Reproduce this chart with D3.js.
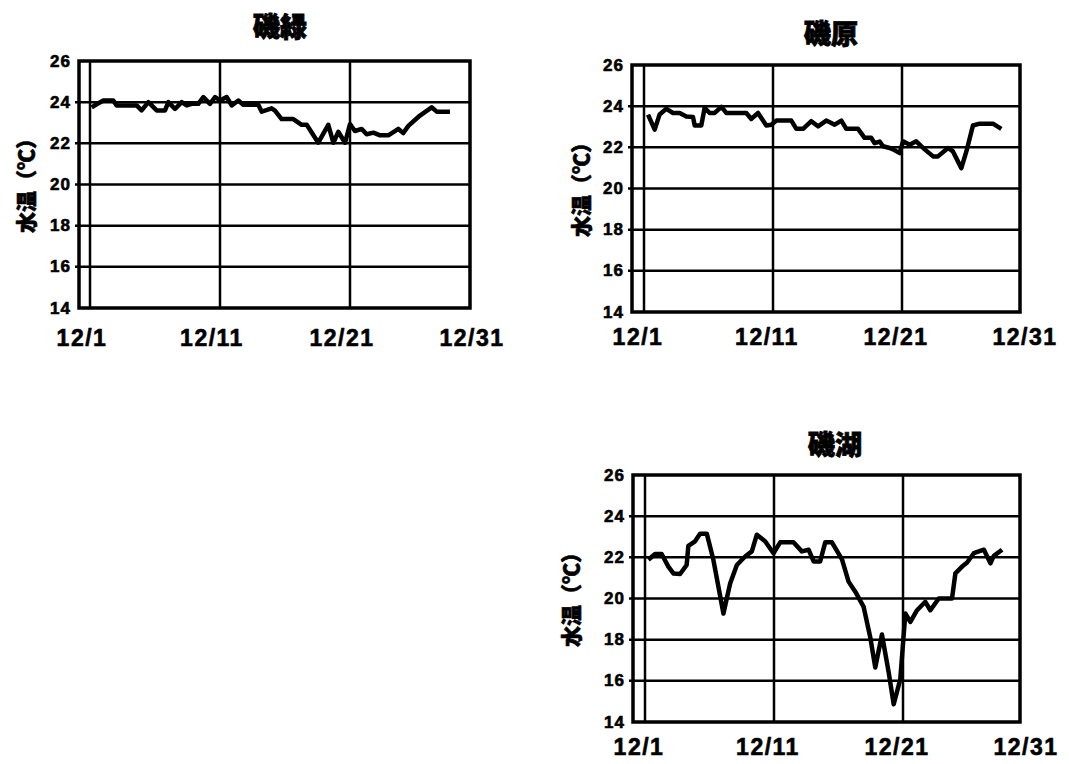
<!DOCTYPE html>
<html>
<head>
<meta charset="utf-8">
<script src="https://cdn.jsdelivr.net/npm/d3@7"></script>
<style>
  body { margin: 0; background: #fff; }
  svg { display: block; }
</style>
</head>
<body>
<script>
// axis values
const tickDays = [1, 11, 21, 31];
const tickLabels = ["12/1", "12/11", "12/21", "12/31"];
const gridDays = [1, 11, 21];
const yTicks = [14, 16, 18, 20, 22, 24, 26];
const stations = ["磯緑", "磯原", "磯湖"];
const yTitle = "水温（℃）";

// 磯緑
const midoriDays = [1.13, 1.51, 2.03, 2.79, 3.05, 4.59, 4.97, 5.49, 6.13, 6.77, 7.03, 7.54, 8.05, 8.44, 8.82, 9.33, 9.72, 10.23, 10.62, 11.0, 11.51, 11.9, 12.41, 12.79, 13.95, 14.21, 14.97, 15.23, 15.74, 16.64, 17.28, 17.67, 18.56, 19.33, 19.72, 20.1, 20.62, 21.0, 21.38, 21.9, 22.28, 22.8, 23.31, 23.95, 24.72, 25.1, 25.49, 26.38, 27.28, 27.67, 28.69];
const midoriTemp = [23.75, 23.9, 24.08, 24.08, 23.84, 23.84, 23.6, 24.0, 23.6, 23.6, 24.0, 23.67, 24.0, 23.84, 23.92, 23.92, 24.25, 23.92, 24.25, 24.08, 24.25, 23.84, 24.08, 23.87, 23.87, 23.54, 23.7, 23.59, 23.18, 23.18, 22.9, 22.9, 22.03, 22.9, 22.03, 22.56, 22.03, 22.93, 22.6, 22.7, 22.44, 22.52, 22.39, 22.39, 22.7, 22.5, 22.85, 23.35, 23.75, 23.54, 23.54];

// 磯原
const haraDays = [1.31, 1.83, 2.21, 2.73, 3.25, 3.76, 4.28, 4.8, 4.93, 5.44, 5.7, 6.09, 6.48, 7.0, 7.38, 8.93, 9.32, 9.84, 10.48, 10.87, 11.26, 12.42, 12.81, 13.33, 13.97, 14.49, 15.13, 15.78, 16.3, 16.68, 17.59, 18.1, 18.62, 18.88, 19.27, 19.53, 20.05, 20.3, 20.82, 21.08, 21.6, 22.1, 22.76, 23.41, 23.79, 24.57, 24.95, 25.6, 25.99, 26.5, 27.02, 28.05, 28.7];
const haraTemp = [23.59, 22.86, 23.6, 23.87, 23.67, 23.67, 23.5, 23.47, 23.06, 23.06, 23.92, 23.67, 23.67, 23.97, 23.67, 23.67, 23.38, 23.67, 23.06, 23.1, 23.3, 23.3, 22.9, 22.9, 23.27, 23.02, 23.3, 23.1, 23.3, 22.9, 22.9, 22.46, 22.46, 22.2, 22.28, 22.05, 21.97, 21.9, 21.72, 22.29, 22.13, 22.29, 21.9, 21.56, 21.56, 21.97, 21.8, 20.99, 21.8, 23.06, 23.15, 23.15, 22.9];

// 磯湖
const koDays = [1.26, 1.78, 2.29, 2.81, 3.2, 3.72, 4.23, 4.36, 4.88, 5.27, 5.79, 6.3, 7.08, 7.6, 8.12, 8.76, 9.28, 9.67, 10.31, 10.96, 11.48, 12.51, 13.16, 13.68, 14.07, 14.58, 14.97, 15.49, 16.27, 16.78, 17.3, 17.95, 18.46, 18.85, 19.37, 19.89, 20.28, 20.79, 21.18, 21.57, 22.09, 22.73, 23.12, 23.77, 24.8, 25.06, 25.58, 25.97, 26.49, 27.27, 27.78, 28.04, 28.68];
const koTemp = [21.88, 22.16, 22.16, 21.55, 21.22, 21.19, 21.63, 22.56, 22.78, 23.15, 23.15, 21.88, 19.27, 20.73, 21.63, 22.04, 22.29, 23.1, 22.78, 22.2, 22.73, 22.73, 22.29, 22.37, 21.8, 21.8, 22.73, 22.73, 21.9, 20.82, 20.33, 19.59, 18.12, 16.65, 18.25, 16.41, 14.86, 16.08, 19.27, 18.86, 19.43, 19.84, 19.43, 20.0, 20.0, 21.22, 21.55, 21.75, 22.2, 22.37, 21.71, 22.07, 22.37];

const svg = d3.select("body").append("svg")
  .attr("width", 1069)
  .attr("height", 764);

svg.append("rect").attr("width", 1069).attr("height", 764).attr("fill", "#fff");

const numFont = "'Liberation Sans', Arial, sans-serif";
const cjkFont = "'Noto Sans CJK JP', 'Noto Sans CJK SC', sans-serif";

// panel layout
const panels = [
  { title: stations[0], days: midoriDays, temp: midoriTemp,
    left: 79, right: 470, top: 61, bottom: 308, day1: 90, day21: 350,
    titleX: 280, titleY: 25, yTitleX: 25, labelDy: 30, labelDx: -8 },
  { title: stations[1], days: haraDays, temp: haraTemp,
    left: 632, right: 1020, top: 65, bottom: 312, day1: 644, day21: 902,
    titleX: 831, titleY: 32, yTitleX: 580, labelDy: 25, labelDx: -6 },
  { title: stations[2], days: koDays, temp: koTemp,
    left: 633, right: 1020, top: 475, bottom: 722, day1: 645, day21: 903,
    titleX: 835, titleY: 443, yTitleX: 570, labelDy: 25, labelDx: -6 }
];

const drawPanel = p => {
  const x = d3.scaleLinear().domain([1, 21]).range([p.day1, p.day21]);
  const y = d3.scaleLinear().domain([14, 26]).range([p.bottom, p.top]);
  const g = svg.append("g");

  // horizontal grid
  g.selectAll(".hgrid")
    .data(yTicks.slice(1, -1))
    .enter().append("line")
    .attr("x1", p.left - 4).attr("x2", p.right)
    .attr("y1", d => y(d)).attr("y2", d => y(d))
    .attr("stroke", "#000").attr("stroke-width", 2.5);

  // vertical grid
  g.selectAll(".vgrid")
    .data(gridDays)
    .enter().append("line")
    .attr("x1", d => x(d)).attr("x2", d => x(d))
    .attr("y1", p.top).attr("y2", p.bottom)
    .attr("stroke", "#000").attr("stroke-width", 2.5);

  // frame
  g.append("rect")
    .attr("x", p.left).attr("y", y(26))
    .attr("width", p.right - p.left).attr("height", y(14) - y(26))
    .attr("fill", "none").attr("stroke", "#000").attr("stroke-width", 3.5);

  // data line
  const pts = p.days.map((d, i) => [d, p.temp[i]]);
  g.append("path")
    .datum(pts)
    .attr("fill", "none")
    .attr("stroke", "#000")
    .attr("stroke-width", 4.5)
    .attr("stroke-linejoin", "round")
    .attr("d", d3.line().x(d => x(d[0])).y(d => y(d[1])));

  // y tick labels
  g.selectAll(".ylab")
    .data(yTicks)
    .enter().append("text")
    .attr("x", p.left - 8).attr("y", d => y(d))
    .attr("text-anchor", "end").attr("dominant-baseline", "central")
    .attr("font-family", numFont).attr("font-weight", "bold")
    .attr("font-size", 17).attr("letter-spacing", 1)
    .attr("stroke", "#000").attr("stroke-width", 0.6)
    .text(d => d);

  // x tick labels
  g.selectAll(".xlab")
    .data(tickDays)
    .enter().append("text")
    .attr("x", (d, i) => x(d) + p.labelDx)
    .attr("y", p.bottom + p.labelDy)
    .attr("text-anchor", "middle").attr("dominant-baseline", "central")
    .attr("font-family", numFont).attr("font-weight", "bold")
    .attr("font-size", 23).attr("letter-spacing", 1.5)
    .attr("stroke", "#000").attr("stroke-width", 0.6)
    .text((d, i) => tickLabels[i]);

  // title
  g.append("text")
    .attr("x", p.titleX).attr("y", p.titleY)
    .attr("text-anchor", "middle").attr("dominant-baseline", "central")
    .attr("font-family", cjkFont).attr("font-weight", 900)
    .attr("font-size", 27)
    .attr("stroke", "#000").attr("stroke-width", 0.8)
    .text(p.title);

  // y title
  const cy = (p.top + p.bottom) / 2 - 4;
  g.append("text")
    .attr("transform", `translate(${p.yTitleX},${cy}) rotate(-90)`)
    .attr("text-anchor", "middle").attr("dominant-baseline", "central")
    .attr("font-family", cjkFont).attr("font-weight", 900)
    .attr("font-size", 21)
    .attr("stroke", "#000").attr("stroke-width", 0.6)
    .text(yTitle);
};

panels.forEach(drawPanel);
</script>
</body>
</html>
